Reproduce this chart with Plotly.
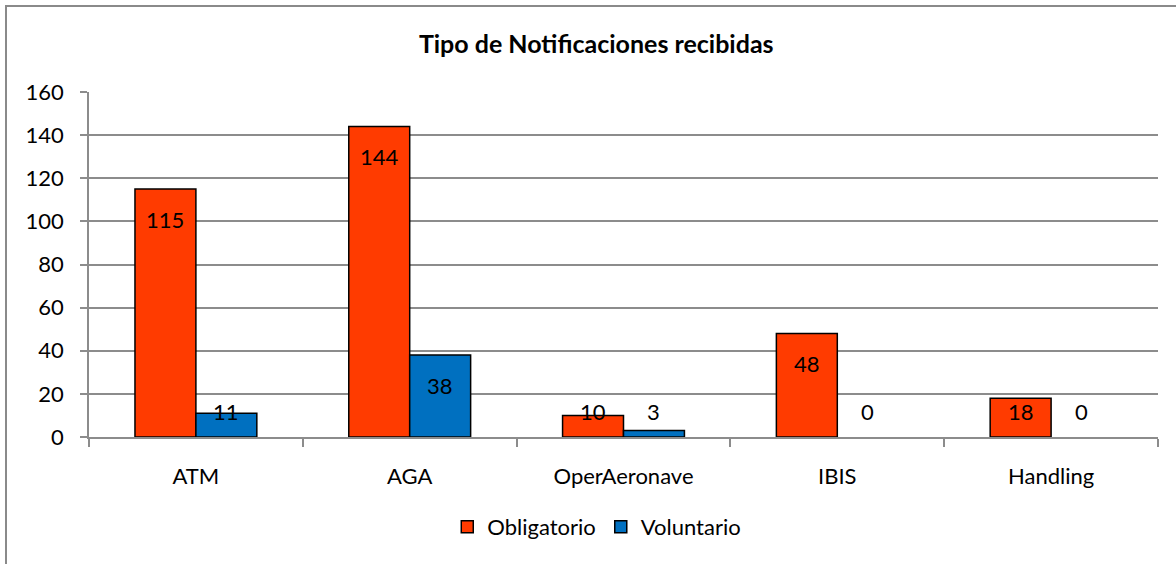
import plotly.graph_objects as go

categories = ["ATM", "AGA", "OperAeronave", "IBIS", "Handling"]
obligatorio = [115, 144, 10, 48, 18]
voluntario = [11, 38, 3, 0, 0]
series_names = ["Obligatorio", "Voluntario"]
title_text = "Tipo de Notificaciones recibidas"
y_ticks = [0, 20, 40, 60, 80, 100, 120, 140, 160]

FONT = "Lato"
W, H = 1176, 564
ML, MR, MT, MB = 89, 18, 92, 127
plot_h = H - MT - MB
y_max = 160
px_per_unit = plot_h / y_max


def outline_widths(vals):
    return [1.5 if v > 0 else 0 for v in vals]


fig = go.Figure()
fig.add_trace(go.Bar(x=categories, y=obligatorio, name=series_names[0],
                     marker=dict(color="#FF3B00",
                                 line=dict(color="#000000", width=outline_widths(obligatorio)))))
fig.add_trace(go.Bar(x=categories, y=voluntario, name=series_names[1],
                     marker=dict(color="#0070C0",
                                 line=dict(color="#000000", width=outline_widths(voluntario)))))

bar_px = (W - ML - MR) / len(categories) * (1 - 0.43) / 2
annotations = []
for vals, off in ((obligatorio, -bar_px / 2), (voluntario, bar_px / 2)):
    for c, v in zip(categories, vals):
        if v * px_per_unit - 30 >= 26:
            y, ys = v, -30
        else:
            y, ys = 0, 26
        annotations.append(dict(x=c, y=y, xref="x", yref="y", text=str(v), showarrow=False,
                                xshift=off, yshift=ys, yanchor="middle", xanchor="center",
                                font=dict(family=FONT, size=22, color="#000000")))

fig.update_layout(
    width=W, height=H,
    margin=dict(l=ML, r=MR, t=MT, b=MB),
    paper_bgcolor="white", plot_bgcolor="white",
    barmode="group", bargap=0.43, bargroupgap=0,
    font=dict(family=FONT, size=22, color="#000000"),
    title=dict(text="<b>" + title_text + "</b>", x=0.507, xanchor="center",
               y=1 - 44 / H, yanchor="middle", font=dict(family=FONT, size=25)),
    showlegend=True,
    legend=dict(orientation="h", x=0.475, xanchor="center", y=-90 / plot_h, yanchor="middle",
                font=dict(family=FONT, size=22), itemwidth=30, tracegroupgap=0),
    annotations=annotations,
    shapes=[dict(type="rect", xref="paper", yref="paper",
                 x0=(6 - ML) / (W - ML - MR), x1=1.2,
                 y0=-0.6, y1=(H - MB - 6) / plot_h,
                 line=dict(color="#8a8a8a", width=2), layer="below")],
)
fig.update_xaxes(showgrid=False, showline=True, linecolor="#8c8c8c", linewidth=1.5,
                 ticks="outside", tickson="boundaries", ticklen=8, tickcolor="#8c8c8c",
                 tickwidth=1.5, ticklabelstandoff=19, tickfont=dict(family=FONT, size=22))
fig.update_yaxes(range=[0, y_max], tickvals=y_ticks, showgrid=True, gridcolor="#8c8c8c",
                 gridwidth=1.5, showline=True, linecolor="#8c8c8c", linewidth=1.5,
                 ticks="outside", ticklen=7, tickcolor="#8c8c8c", tickwidth=1.5,
                 zeroline=False, ticklabelstandoff=12, tickfont=dict(family=FONT, size=22))

fig.write_html("out.html", config={"displayModeBar": False},
               post_script="document.body.style.margin='0';document.body.style.overflow='hidden';")
